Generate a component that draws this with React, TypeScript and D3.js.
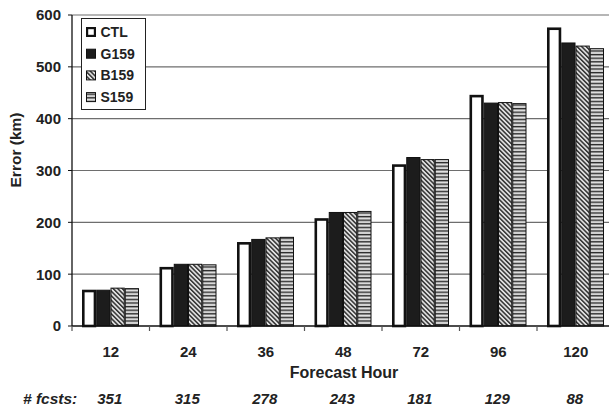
import React from "react";
import * as d3 from "d3";

const hours = ["12", "24", "36", "48", "72", "96", "120"];
const counts = ["351", "315", "278", "243", "181", "129", "88"];
const seriesNames = ["CTL", "G159", "B159", "S159"];
const ctl = [70, 114, 162, 208, 312, 446, 576];
const g159 = [70, 120, 168, 220, 326, 431, 547];
const b159 = [74, 120, 171, 220, 322, 432, 541];
const s159 = [73, 119, 172, 222, 322, 430, 536];
const yTicks = [0, 100, 200, 300, 400, 500, 600];

const seriesValues = [ctl, g159, b159, s159];
const fills = ["#ffffff", "#1c1c1c", "url(#diag)", "url(#horiz)"];
const strokeW = [2.6, 1, 1, 1];

const W = 609;
const H = 409;
const left = 72;
const bandW = 77.5;
const font = "Liberation Sans, Arial, sans-serif";

export default function App() {
  const x = d3
    .scaleBand<string>()
    .domain(hours)
    .range([left, left + bandW * hours.length])
    .paddingInner(0)
    .paddingOuter(0);
  const y = d3.scaleLinear().domain([0, 600]).range([326, 15]);
  const inner = d3
    .scaleBand<string>()
    .domain(seriesNames)
    .range([10, bandW - 10.5]);

  return (
    <svg
      width={W}
      height={H}
      style={{ position: "absolute", left: 0, top: 0, background: "#fff" }}
      fontFamily={font}
    >
      <defs>
        <pattern id="diag" width="3.2" height="3.2" patternUnits="userSpaceOnUse" patternTransform="rotate(-45)">
          <rect width="3.2" height="3.2" fill="#e0e0e0" />
          <rect width="1.5" height="3.2" fill="#333" />
        </pattern>
        <pattern id="horiz" width="4" height="3.6" patternUnits="userSpaceOnUse">
          <rect width="4" height="3.6" fill="#ffffff" />
          <rect y="0" width="4" height="1.4" fill="#2a2a2a" />
          <rect y="2.4" width="4" height="0.8" fill="#aaaaaa" />
        </pattern>
      </defs>

      {/* gridlines */}
      {yTicks.slice(1).map((t) => (
        <line key={t} x1={left} x2={W} y1={y(t)} y2={y(t)} stroke="#6e6e6e" strokeWidth={1.2} />
      ))}

      {/* bars */}
      {hours.map((h, i) => (
        <g key={h}>
          {seriesNames.map((s, j) => {
            const v = seriesValues[j][i];
            const sw = strokeW[j];
            const x0 = (x(h) as number) + (inner(s) as number);
            const bw = inner.bandwidth();
            return (
              <rect
                key={s}
                x={x0 + sw / 2}
                y={y(v) + sw / 2}
                width={bw - sw}
                height={y(0) - y(v) - sw / 2}
                fill={fills[j]}
                stroke="#111"
                strokeWidth={sw}
              />
            );
          })}
        </g>
      ))}

      {/* axes */}
      <line x1={left} x2={left} y1={y(600)} y2={y(0)} stroke="#111" strokeWidth={1.3} />
      <line x1={left} x2={W} y1={y(0)} y2={y(0)} stroke="#111" strokeWidth={1.6} />
      {yTicks.map((t) => (
        <g key={t}>
          <line x1={left - 4} x2={left} y1={y(t)} y2={y(t)} stroke="#111" strokeWidth={1} />
          <text x={left - 11} y={y(t)} dy="0.36em" textAnchor="end" fontSize={15} fontWeight="bold" fill="#222">
            {t}
          </text>
        </g>
      ))}
      {hours.map((h) => (
        <line
          key={h}
          x1={x(h) as number}
          x2={x(h) as number}
          y1={y(0)}
          y2={y(0) + 5}
          stroke="#555"
          strokeWidth={1.2}
        />
      ))}
      {hours.map((h, i) => (
        <g key={"l" + h}>
          <text
            x={(x(h) as number) + bandW / 2}
            y={357}
            textAnchor="middle"
            fontSize={15}
            fontWeight="bold"
            fill="#222"
          >
            {h}
          </text>
          <text
            x={(x(h) as number) + bandW / 2 - 1}
            y={404}
            textAnchor="middle"
            fontSize={15}
            fontWeight="bold"
            fontStyle="italic"
            fill="#222"
          >
            {counts[i]}
          </text>
        </g>
      ))}
      <text x={23} y={404} fontSize={15.5} fontWeight="bold" fontStyle="italic" fill="#222">
        # fcsts:
      </text>
      <text x={344} y={378} textAnchor="middle" fontSize={16} fontWeight="bold" fill="#222">
        Forecast Hour
      </text>
      <text
        transform={`translate(21,150) rotate(-90)`}
        textAnchor="middle"
        fontSize={15.5}
        fontWeight="bold"
        fill="#222"
      >
        Error (km)
      </text>

      {/* legend */}
      <g>
        <rect x={81.5} y={18.5} width={64} height={91} fill="#fff" stroke="#222" strokeWidth={1} />
        {seriesNames.map((s, j) => {
          const cy = 32 + j * 21.7;
          const sw = j === 0 ? 2.2 : 1;
          return (
            <g key={s}>
              <rect
                x={86 + sw / 2}
                y={cy - 5 + sw / 2}
                width={10 - sw}
                height={10 - sw}
                fill={fills[j]}
                stroke="#111"
                strokeWidth={sw}
              />
              <text x={100.5} y={cy} dy="0.36em" fontSize={14} fontWeight="bold" fill="#222">
                {s}
              </text>
            </g>
          );
        })}
      </g>
    </svg>
  );
}
